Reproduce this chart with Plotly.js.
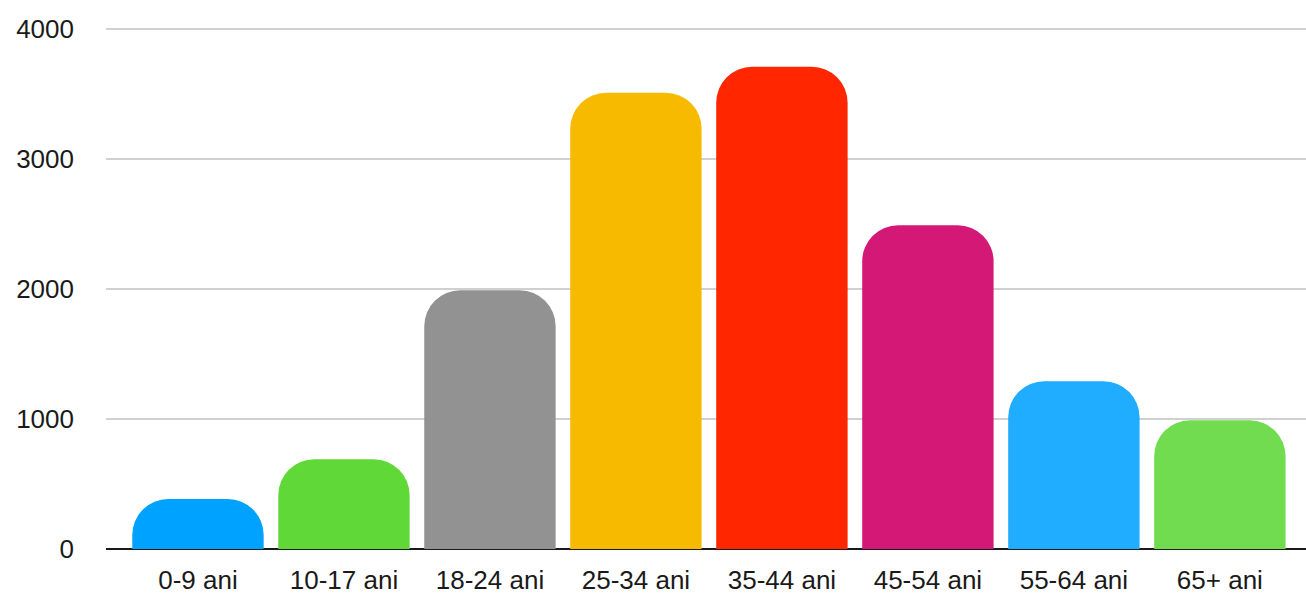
<!DOCTYPE html>
<html>
<head>
<meta charset="utf-8">
<script src="https://cdn.plot.ly/plotly-3.0.1.min.js"></script>
<style>html,body{margin:0;padding:0;background:#fff;}#chart{width:1306px;height:594px;}</style>
</head>
<body>
<div id="chart"></div>
<script>
const categories = ["0-9 ani", "10-17 ani", "18-24 ani", "25-34 ani", "35-44 ani", "45-54 ani", "55-64 ani", "65+ ani"];
const values = [385, 690, 1990, 3510, 3710, 2490, 1290, 990];
const colors = ["#00A2FF", "#5FD838", "#929292", "#F8BA00", "#FF2600", "#D31876", "#20ADFF", "#72DC50"];
const yTicks = [0, 1000, 2000, 3000, 4000];

const trace = {
  type: "bar",
  x: categories,
  y: values,
  width: 0.9,
  marker: {color: colors, cornerradius: 36, line: {width: 0}},
  hoverinfo: "x+y"
};

const layout = {
  width: 1306,
  height: 594,
  margin: {l: 106, r: 0, t: 28, b: 45},
  paper_bgcolor: "#ffffff",
  plot_bgcolor: "#ffffff",
  showlegend: false,
  font: {family: "Liberation Sans, Arial, sans-serif", size: 26, color: "#1a1a1a"},
  xaxis: {
    type: "category",
    range: [-0.63, 7.59],
    showgrid: false,
    zeroline: false,
    showline: false,
    ticks: "",
    ticklabelstandoff: 13,
    tickfont: {size: 26, color: "#1a1a1a"}
  },
  yaxis: {
    range: [0, 4008],
    tickvals: yTicks,
    ticktext: yTicks.map(String),
    showgrid: true,
    gridcolor: "#d0d0d0",
    gridwidth: 1.5,
    zeroline: true,
    zerolinecolor: "#1a1a1a",
    zerolinewidth: 2,
    ticks: "",
    ticklabelstandoff: 31,
    tickfont: {size: 26, color: "#1a1a1a"},
    fixedrange: true
  }
};

Plotly.newPlot("chart", [trace], layout, {displayModeBar: false, staticPlot: true});
</script>
</body>
</html>
